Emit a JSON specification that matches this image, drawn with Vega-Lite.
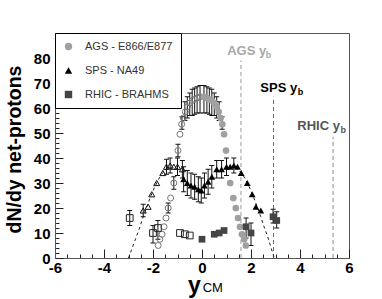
{
  "$schema": "https://vega.github.io/schema/vega-lite/v6.json",
  "width": 294,
  "height": 225,
  "autosize": "none",
  "padding": {"left": 55, "top": 33, "right": 33, "bottom": 41},
  "background": "white",
  "config": {
    "view": {"stroke": "#555", "strokeWidth": 1},
    "font": "Liberation Sans"
  },
  "datasets": {
    "pts": [
      {"x": 0.08, "y": 64.5, "exp": "AGS - E866/E877", "open": false},
      {"x": 0.2, "y": 64, "exp": "AGS - E866/E877", "open": false},
      {"x": 0.3, "y": 63.5, "exp": "AGS - E866/E877", "open": false},
      {"x": 0.4, "y": 63, "exp": "AGS - E866/E877", "open": false},
      {"x": 0.5, "y": 62, "exp": "AGS - E866/E877", "open": false},
      {"x": 0.6, "y": 60.5, "exp": "AGS - E866/E877", "open": false},
      {"x": 0.68, "y": 58.5, "exp": "AGS - E866/E877", "open": false},
      {"x": 0.76, "y": 56, "exp": "AGS - E866/E877", "open": false},
      {"x": 0.83, "y": 53.5, "exp": "AGS - E866/E877", "open": false},
      {"x": 0.9, "y": 49.5, "exp": "AGS - E866/E877", "open": false},
      {"x": 0.98, "y": 43, "exp": "AGS - E866/E877", "open": false},
      {"x": 1.15, "y": 30, "exp": "AGS - E866/E877", "open": false},
      {"x": 1.28, "y": 24, "exp": "AGS - E866/E877", "open": false},
      {"x": 1.38, "y": 20, "exp": "AGS - E866/E877", "open": false},
      {"x": 1.47, "y": 16, "exp": "AGS - E866/E877", "open": false},
      {"x": 1.55, "y": 12.5, "exp": "AGS - E866/E877", "open": false},
      {"x": 1.63, "y": 9.5, "exp": "AGS - E866/E877", "open": false},
      {"x": 1.72, "y": 7.5, "exp": "AGS - E866/E877", "open": false},
      {"x": 1.79, "y": 5, "exp": "AGS - E866/E877", "open": false},
      {"x": -0.08, "y": 64.5, "exp": "AGS - E866/E877", "open": true},
      {"x": -0.2, "y": 64, "exp": "AGS - E866/E877", "open": true},
      {"x": -0.3, "y": 63.5, "exp": "AGS - E866/E877", "open": true},
      {"x": -0.4, "y": 63, "exp": "AGS - E866/E877", "open": true},
      {"x": -0.5, "y": 62, "exp": "AGS - E866/E877", "open": true},
      {"x": -0.6, "y": 60.5, "exp": "AGS - E866/E877", "open": true},
      {"x": -0.68, "y": 58.5, "exp": "AGS - E866/E877", "open": true},
      {"x": -0.76, "y": 56, "exp": "AGS - E866/E877", "open": true},
      {"x": -0.83, "y": 53.5, "exp": "AGS - E866/E877", "open": true},
      {"x": -0.9, "y": 49.5, "exp": "AGS - E866/E877", "open": true},
      {"x": -0.98, "y": 43, "exp": "AGS - E866/E877", "open": true},
      {"x": -1.15, "y": 30, "exp": "AGS - E866/E877", "open": true},
      {"x": -1.28, "y": 24, "exp": "AGS - E866/E877", "open": true},
      {"x": -1.38, "y": 20, "exp": "AGS - E866/E877", "open": true},
      {"x": -1.47, "y": 16, "exp": "AGS - E866/E877", "open": true},
      {"x": -1.55, "y": 12.5, "exp": "AGS - E866/E877", "open": true},
      {"x": -1.63, "y": 9.5, "exp": "AGS - E866/E877", "open": true},
      {"x": -1.72, "y": 7.5, "exp": "AGS - E866/E877", "open": true},
      {"x": -1.79, "y": 5, "exp": "AGS - E866/E877", "open": true},
      {"x": -0.75, "y": 31.5, "exp": "SPS - NA49", "open": false},
      {"x": -0.6, "y": 30, "exp": "SPS - NA49", "open": false},
      {"x": -0.45, "y": 29, "exp": "SPS - NA49", "open": false},
      {"x": -0.3, "y": 28.5, "exp": "SPS - NA49", "open": false},
      {"x": -0.15, "y": 27.5, "exp": "SPS - NA49", "open": false},
      {"x": -0.03, "y": 27, "exp": "SPS - NA49", "open": false},
      {"x": 0.1, "y": 29, "exp": "SPS - NA49", "open": false},
      {"x": 0.25, "y": 30.5, "exp": "SPS - NA49", "open": false},
      {"x": 0.4, "y": 32.5, "exp": "SPS - NA49", "open": false},
      {"x": 0.6, "y": 35.5, "exp": "SPS - NA49", "open": false},
      {"x": 0.8, "y": 35.5, "exp": "SPS - NA49", "open": false},
      {"x": 1.0, "y": 36.5, "exp": "SPS - NA49", "open": false},
      {"x": 1.15, "y": 36.5, "exp": "SPS - NA49", "open": false},
      {"x": 1.3, "y": 37, "exp": "SPS - NA49", "open": false},
      {"x": 1.45, "y": 36.5, "exp": "SPS - NA49", "open": false},
      {"x": 1.6, "y": 34, "exp": "SPS - NA49", "open": false},
      {"x": 1.85, "y": 30, "exp": "SPS - NA49", "open": false},
      {"x": 2.05, "y": 25.5, "exp": "SPS - NA49", "open": false},
      {"x": 2.2, "y": 20.5, "exp": "SPS - NA49", "open": false},
      {"x": 2.4, "y": 19, "exp": "SPS - NA49", "open": false},
      {"x": -0.8, "y": 35.5, "exp": "SPS - NA49", "open": true},
      {"x": -1.0, "y": 36.5, "exp": "SPS - NA49", "open": true},
      {"x": -1.15, "y": 36.5, "exp": "SPS - NA49", "open": true},
      {"x": -1.3, "y": 37, "exp": "SPS - NA49", "open": true},
      {"x": -1.45, "y": 36.5, "exp": "SPS - NA49", "open": true},
      {"x": -1.6, "y": 34, "exp": "SPS - NA49", "open": true},
      {"x": -1.85, "y": 30, "exp": "SPS - NA49", "open": true},
      {"x": -2.05, "y": 25.5, "exp": "SPS - NA49", "open": true},
      {"x": -2.2, "y": 20.5, "exp": "SPS - NA49", "open": true},
      {"x": -2.4, "y": 19, "exp": "SPS - NA49", "open": true},
      {"x": 0.0, "y": 7.5, "exp": "RHIC - BRAHMS", "open": false},
      {"x": 0.5, "y": 9.5, "exp": "RHIC - BRAHMS", "open": false},
      {"x": 0.7, "y": 10, "exp": "RHIC - BRAHMS", "open": false},
      {"x": 0.9, "y": 11, "exp": "RHIC - BRAHMS", "open": false},
      {"x": 1.8, "y": 12.5, "exp": "RHIC - BRAHMS", "open": false},
      {"x": 2.0, "y": 10, "exp": "RHIC - BRAHMS", "open": false},
      {"x": 2.9, "y": 16.5, "exp": "RHIC - BRAHMS", "open": false},
      {"x": 3.05, "y": 15, "exp": "RHIC - BRAHMS", "open": false},
      {"x": -0.5, "y": 9, "exp": "RHIC - BRAHMS", "open": true},
      {"x": -0.7, "y": 9.5, "exp": "RHIC - BRAHMS", "open": true},
      {"x": -0.9, "y": 10, "exp": "RHIC - BRAHMS", "open": true},
      {"x": -1.8, "y": 12, "exp": "RHIC - BRAHMS", "open": true},
      {"x": -2.0, "y": 10, "exp": "RHIC - BRAHMS", "open": true},
      {"x": -2.95, "y": 16, "exp": "RHIC - BRAHMS", "open": true}
    ],
    "err": [
      {"x": 0.08, "y": 58, "y2": 69}, {"x": 0.2, "y": 58, "y2": 68.5}, {"x": 0.3, "y": 57.5, "y2": 68},
      {"x": 0.4, "y": 57, "y2": 67.5}, {"x": 0.5, "y": 57, "y2": 66}, {"x": 0.6, "y": 56, "y2": 64.5},
      {"x": 0.7, "y": 55, "y2": 62.5}, {"x": 0.82, "y": 51.5, "y2": 56.5},
      {"x": -0.08, "y": 58, "y2": 69}, {"x": -0.2, "y": 58, "y2": 68.5}, {"x": -0.3, "y": 57.5, "y2": 68},
      {"x": -0.4, "y": 57, "y2": 67.5}, {"x": -0.5, "y": 57, "y2": 66}, {"x": -0.6, "y": 56, "y2": 64.5},
      {"x": -0.7, "y": 55, "y2": 62.5}, {"x": -0.82, "y": 51.5, "y2": 56.5}, {"x": -0.98, "y": 40.5, "y2": 45.5},
      {"x": -1.15, "y": 27.5, "y2": 32.5}, {"x": -1.38, "y": 18, "y2": 22},
      {"x": -0.75, "y": 26.5, "y2": 36.5}, {"x": -0.6, "y": 25, "y2": 35}, {"x": -0.45, "y": 24, "y2": 34},
      {"x": -0.3, "y": 23.5, "y2": 33.5}, {"x": -0.15, "y": 22.5, "y2": 32.5}, {"x": -0.03, "y": 22, "y2": 32},
      {"x": 0.1, "y": 24, "y2": 34}, {"x": 0.25, "y": 25.5, "y2": 35.5}, {"x": 0.4, "y": 28, "y2": 37},
      {"x": 0.6, "y": 32, "y2": 39}, {"x": 0.8, "y": 32, "y2": 39}, {"x": 1.0, "y": 33, "y2": 40},
      {"x": 1.3, "y": 34, "y2": 40}, {"x": -0.8, "y": 32, "y2": 39}, {"x": -1.0, "y": 33, "y2": 40},
      {"x": -1.3, "y": 34, "y2": 40}, {"x": -1.45, "y": 33.5, "y2": 39.5},
      {"x": 1.8, "y": 8, "y2": 16}, {"x": 2.0, "y": 5, "y2": 14}, {"x": 2.9, "y": 14, "y2": 19.5},
      {"x": 3.05, "y": 12, "y2": 18.5}, {"x": -1.8, "y": 7.5, "y2": 15}, {"x": -2.0, "y": 6, "y2": 13},
      {"x": -2.95, "y": 13, "y2": 19}, {"x": -2.4, "y": 16.5, "y2": 21.5}
    ],
    "fit": [
      {"x": -3.0, "y": 0, "seg": "L"}, {"x": -2.85, "y": 4, "seg": "L"}, {"x": -2.7, "y": 8, "seg": "L"},
      {"x": -2.55, "y": 12, "seg": "L"}, {"x": -2.4, "y": 16.5, "seg": "L"}, {"x": -2.25, "y": 20.5, "seg": "L"},
      {"x": -2.1, "y": 24.5, "seg": "L"}, {"x": -1.95, "y": 28, "seg": "L"}, {"x": -1.8, "y": 31, "seg": "L"},
      {"x": -1.65, "y": 33.5, "seg": "L"}, {"x": -1.5, "y": 35.2, "seg": "L"}, {"x": -1.35, "y": 36.3, "seg": "L"},
      {"x": 1.35, "y": 36.3, "seg": "R"}, {"x": 1.5, "y": 35.2, "seg": "R"}, {"x": 1.65, "y": 33.5, "seg": "R"},
      {"x": 1.8, "y": 31, "seg": "R"}, {"x": 1.95, "y": 28, "seg": "R"}, {"x": 2.1, "y": 24.5, "seg": "R"},
      {"x": 2.25, "y": 20.5, "seg": "R"}, {"x": 2.4, "y": 16.5, "seg": "R"}, {"x": 2.55, "y": 12, "seg": "R"},
      {"x": 2.7, "y": 8, "seg": "R"}, {"x": 2.82, "y": 4, "seg": "R"}, {"x": 2.95, "y": 0, "seg": "R"}
    ],
    "yb": [
      {"beam": "AGS", "x": 1.59, "y": 0, "y2": 79},
      {"beam": "SPS", "x": 2.92, "y": 0, "y2": 64.5},
      {"beam": "RHIC", "x": 5.35, "y": 0, "y2": 48.5}
    ],
    "lab": [
      {"beam": "AGS", "kind": "main", "t": "AGS y", "x": 1.03, "y": 81.3},
      {"beam": "AGS", "kind": "sub", "t": "b", "x": 2.6, "y": 80.1},
      {"beam": "SPS", "kind": "main", "t": "SPS y", "x": 2.38, "y": 66.6},
      {"beam": "SPS", "kind": "sub", "t": "b", "x": 3.91, "y": 65.4},
      {"beam": "RHIC", "kind": "main", "t": "RHIC y", "x": 3.89, "y": 51.4},
      {"beam": "RHIC", "kind": "sub", "t": "b", "x": 5.65, "y": 50.2}
    ],
    "sub": [
      {"t": "CM", "x": 0.03, "y": -13.5}
    ]
  },
  "encoding": {
    "x": {
      "field": "x", "type": "quantitative",
      "scale": {"domain": [-6, 6], "nice": false, "zero": false},
      "axis": {
        "values": [-6,-5.5,-5,-4.5,-4,-3.5,-3,-2.5,-2,-1.5,-1,-0.5,0,0.5,1,1.5,2,2.5,3,3.5,4,4.5,5,5.5,6],
        "labelExpr": "datum.value % 2 == 0 ? '' + datum.value : ''",
        "tickSize": {"condition": {"test": "datum.value % 2 == 0", "value": -9}, "value": -4},
        "tickColor": "#222", "domainColor": "#555", "grid": false,
        "labelFont": "Liberation Sans", "labelFontSize": 15, "labelFontWeight": "bold", "labelColor": "black",
        "labelPadding": 11, "labelFlush": false,
        "title": "y", "titleFont": "Liberation Sans", "titleFontSize": 23, "titleFontWeight": "bold",
        "titleColor": "black", "titleX": 139, "titleY": 34, "titleBaseline": "alphabetic", "titleAlign": "center"
      }
    },
    "y": {
      "field": "y", "type": "quantitative",
      "scale": {"domain": [0, 90], "nice": false, "zero": false},
      "axis": {
        "values": [0,2,4,6,8,10,12,14,16,18,20,22,24,26,28,30,32,34,36,38,40,42,44,46,48,50,52,54,56,58,60,62,64,66,68,70,72,74,76,78,80,82,84,86,88],
        "labelExpr": "datum.value % 10 == 0 && datum.value <= 80 ? '' + datum.value : ''",
        "tickSize": {"condition": {"test": "datum.value % 10 == 0", "value": -8}, "value": -4},
        "tickColor": "#222", "domainColor": "#555", "grid": false,
        "labelFont": "Liberation Sans", "labelFontSize": 15, "labelFontWeight": "bold", "labelColor": "black",
        "labelPadding": 13, "labelFlush": false,
        "title": "dN/dy net-protons", "titleFont": "Liberation Sans", "titleFontSize": 19.5, "titleFontWeight": "bold",
        "titleColor": "black", "titleX": -41, "titleY": 116, "titleAngle": -90, "titleBaseline": "middle", "titleAlign": "center"
      }
    }
  },
  "layer": [
    {
      "data": {"name": "yb"},
      "mark": {"type": "rule", "strokeWidth": 1, "strokeDash": [4, 3]},
      "encoding": {
        "y2": {"field": "y2"},
        "stroke": {
          "field": "beam", "type": "nominal", "legend": null,
          "scale": {"domain": ["AGS", "SPS", "RHIC"], "range": ["#999999", "#666666", "#888888"]}
        }
      }
    },
    {
      "data": {"name": "fit"},
      "mark": {"type": "line", "color": "#222", "strokeWidth": 1, "strokeDash": [3, 3]},
      "encoding": {
        "detail": {"field": "seg"}
      }
    },
    {
      "data": {"name": "err"},
      "mark": {"type": "rule", "color": "#111", "strokeWidth": 1},
      "encoding": {
        "y2": {"field": "y2"}
      }
    },
    {
      "data": {"name": "err"},
      "transform": [{"fold": ["y", "y2"], "as": ["end", "v"]}],
      "mark": {"type": "tick", "orient": "horizontal", "color": "#111", "size": 5, "thickness": 1, "opacity": 1},
      "encoding": {
        "y": {"field": "v", "type": "quantitative"}
      }
    },
    {
      "data": {"name": "pts"},
      "transform": [{"filter": "datum.open && datum.exp == 'AGS - E866/E877'"}],
      "mark": {"type": "point", "shape": "circle", "filled": false, "opacity": 1, "size": 36, "strokeWidth": 1, "stroke": "#777"}
    },
    {
      "data": {"name": "pts"},
      "transform": [{"filter": "datum.open && datum.exp == 'SPS - NA49'"}],
      "mark": {"type": "point", "shape": "triangle-up", "filled": false, "opacity": 1, "size": 36, "strokeWidth": 1, "stroke": "#111"}
    },
    {
      "data": {"name": "pts"},
      "transform": [{"filter": "datum.open && datum.exp == 'RHIC - BRAHMS'"}],
      "mark": {"type": "point", "shape": "square", "filled": false, "opacity": 1, "size": 45, "strokeWidth": 1, "stroke": "#222"}
    },
    {
      "data": {"name": "pts"},
      "transform": [{"filter": "!datum.open"}],
      "mark": {"type": "point", "filled": true, "opacity": 1, "size": 45},
      "encoding": {
        "color": {
          "field": "exp", "type": "nominal",
          "scale": {"domain": ["AGS - E866/E877", "SPS - NA49", "RHIC - BRAHMS"], "range": ["#a0a0a0", "#000000", "#444444"]},
          "legend": {
            "title": null, "orient": "top-left", "offset": 0, "strokeColor": "black",
            "fillColor": "white", "padding": 8, "rowPadding": 12, "labelFont": "Liberation Sans",
            "labelFontSize": 11, "labelColor": "#333", "symbolSize": 55, "labelOffset": 11,
            "symbolStrokeWidth": 0,
            "encode": {"legend": {"update": {"stroke": {"value": "black"}, "strokeWidth": {"value": 1.5}, "fill": {"value": "white"}}}}
          }
        },
        "shape": {
          "field": "exp", "type": "nominal",
          "scale": {"domain": ["AGS - E866/E877", "SPS - NA49", "RHIC - BRAHMS"], "range": ["circle", "triangle-up", "square"]},
          "legend": {
            "title": null, "orient": "top-left", "offset": 0, "strokeColor": "black",
            "fillColor": "white", "padding": 8, "rowPadding": 12, "labelFont": "Liberation Sans",
            "labelFontSize": 11, "labelColor": "#333", "symbolSize": 55, "labelOffset": 11,
            "symbolStrokeWidth": 0,
            "encode": {"legend": {"update": {"stroke": {"value": "black"}, "strokeWidth": {"value": 1.5}, "fill": {"value": "white"}}}}
          }
        }
      }
    },
    {
      "data": {"name": "lab"},
      "transform": [{"filter": "datum.kind == 'main'"}],
      "mark": {"type": "text", "align": "left", "baseline": "alphabetic", "font": "Liberation Sans", "fontSize": 13, "fontWeight": "bold"},
      "encoding": {
        "text": {"field": "t"},
        "fill": {
          "field": "beam", "type": "nominal", "legend": null,
          "scale": {"domain": ["AGS", "SPS", "RHIC"], "range": ["#a8a8a8", "#000000", "#555555"]}
        }
      }
    },
    {
      "data": {"name": "lab"},
      "transform": [{"filter": "datum.kind == 'sub'"}],
      "mark": {"type": "text", "align": "left", "baseline": "alphabetic", "font": "Liberation Sans", "fontSize": 9, "fontWeight": "bold"},
      "encoding": {
        "text": {"field": "t"},
        "fill": {
          "field": "beam", "type": "nominal", "legend": null,
          "scale": {"domain": ["AGS", "SPS", "RHIC"], "range": ["#a8a8a8", "#000000", "#555555"]}
        }
      }
    },
    {
      "data": {"name": "sub"},
      "mark": {"type": "text", "align": "left", "baseline": "alphabetic", "font": "Liberation Sans", "fontSize": 13, "color": "black"},
      "encoding": {
        "text": {"field": "t"}
      }
    }
  ],
  "resolve": {"scale": {"stroke": "independent", "fill": "independent"}}
}
